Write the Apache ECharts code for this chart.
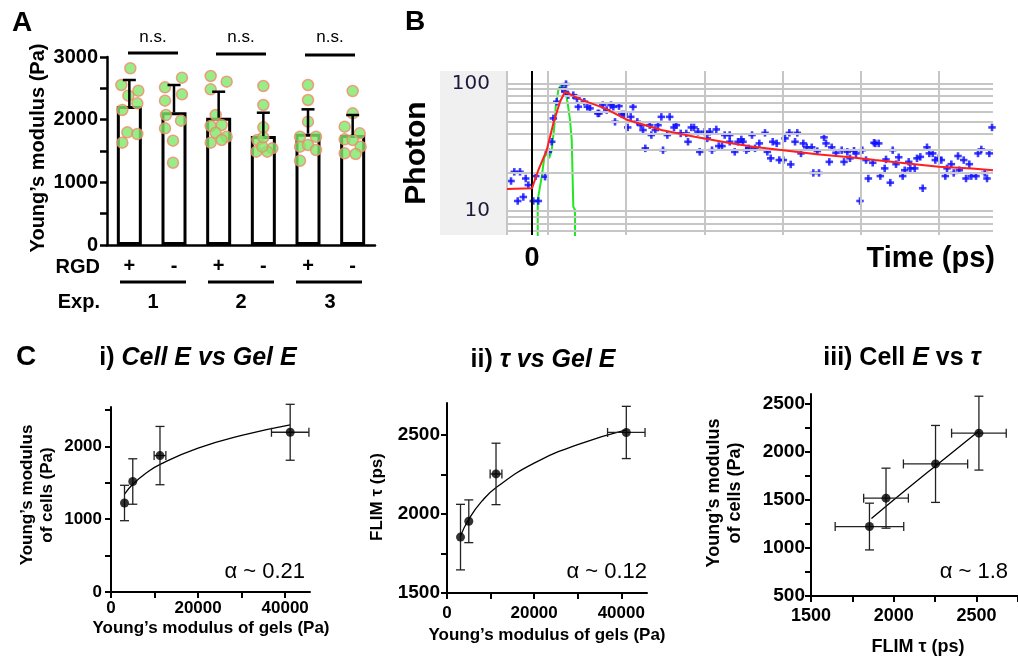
<!DOCTYPE html>
<html><head><meta charset="utf-8">
<script src="https://cdn.jsdelivr.net/npm/echarts@6/dist/echarts.min.js"></script>
<style>html,body{margin:0;padding:0;background:#fff}#c{width:1018px;height:660px}</style>
</head><body><div id="c"></div>
<script>
// ================= Panel A data =================
const aCategories = ['+', '-', '+', '-', '+', '-'];
const aGroupLabels = ['1', '2', '3'];
const aMeans = [2218, 2117, 2031, 1739, 1776, 1755];
const aSD = [415, 436, 415, 372, 389, 319];
const aDots = [
  [2820, 2553, 2462, 2383, 2261, 2154, 1798, 1771, 1633],
  [2670, 2516, 2404, 2303, 2074, 1984, 1862, 1665, 1313],
  [2697, 2606, 2484, 2074, 1899, 1915, 1792, 1728, 1633, 1676],
  [2537, 2234, 1878, 1676, 1543, 1489, 1489, 1569, 1718],
  [2553, 2314, 1968, 1728, 1728, 1569, 1596, 1516, 1345],
  [2457, 2101, 1888, 1782, 1686, 1676, 1569, 1463, 1452]
];
const aYTicks = [0, 500, 1000, 1500, 2000, 2500, 3000];
const aYLabels = [0, 1000, 2000, 3000];

// ================= Panel B data =================
// [time (ps), photons]
const bPhotons = [
  [-537,17.2],[-453,20.3],[-307,20.3],[-161,18.0],[-366,12.0],[-223,12.9],[-95,16.0],[33,12.0],[161,12.0],[95,18.8],
  [333,18.6],[417,29.1],[504,34.9],[545,53.2],[632,71.8],[775,91.4],[870,98.7],[844,85.9],[929,80.9],[1056,80.9],
  [1151,76.3],[1184,65.6],[1338,71.8],[1415,65.6],[1484,63.7],[1681,58.2],[1714,58.2],[1809,67.6],[1911,61.8],[2021,67.6],
  [2080,65.6],[2123,50.0],[2225,66.4],[2295,57.2],[2361,57.2],[2448,45.2],[2525,54.7],[2584,65.6],[2694,50.0],[2781,47.1],
  [2839,43.1],[2898,31.0],[3011,47.1],[3052,39.4],[3154,43.1],[3223,47.1],[3308,54.7],[3351,30.0],[3461,39.4],[3522,54.7],
  [3632,45.2],[3691,47.1],[3804,40.6],[3947,40.6],[3990,34.9],[4075,45.2],[4144,45.2],[4246,41.8],[4290,29.1],[4418,41.8],
  [4546,41.8],[4484,37.1],[4604,30.0],[4714,43.6],[4776,32.3],[4860,32.3],[4929,39.4],[5057,39.4],[5057,34.9],[5185,29.1],
  [5270,34.9],[5354,36.4],[5397,34.9],[5482,30.0],[5543,31.0],[5628,39.4],[5704,31.0],[5814,33.9],[5960,41.0],[6019,29.1],
  [6106,25.9],[6157,34.9],[6259,33.9],[6326,25.1],[6428,25.1],[6472,37.1],[6582,41.0],[6618,23.2],[6728,34.9],[6786,41.0],
  [6881,28.3],[6940,33.9],[7027,31.6],[7155,31.6],[7196,19.9],[7341,19.9],[7298,29.5],[7469,37.8],[7521,33.9],[7605,24.3],
  [7666,31.6],[7776,28.6],[7922,30.0],[7981,24.3],[8065,29.1],[8134,25.9],[8237,29.7],[8288,28.3],[8390,12.0],[8449,30.0],
  [8544,25.1],[8603,18.0],[8715,23.9],[8748,34.3],[8782,33.9],[8869,33.9],[8910,18.8],[9022,21.6],[9055,25.4],[9165,16.7],
  [9227,30.0],[9311,23.3],[9380,26.4],[9482,18.8],[9534,20.9],[9636,24.3],[9677,21.6],[9790,21.6],[9848,25.9],[9933,26.6],
  [9994,15.1],[10104,31.6],[10163,28.3],[10250,28.3],[10316,25.1],[10403,25.9],[10470,25.1],[10572,18.8],[10616,21.6],[10726,23.3],
  [10787,19.9],[10897,27.0],[10930,20.9],[11043,25.1],[11102,18.0],[11186,23.3],[11237,18.8],[11358,18.8],[11409,28.3],[11493,30.4],
  [11580,19.9],[11639,18.0],[11698,28.3],[11767,45.2]
];
const bFit = [
  [-640,14.9],[0,15.1],[161,20.9],[376,30.0],[545,48.6],[716,71.8],[844,85.9],[887,87.5],[1271,74.2],[1867,63.7],
  [2448,51.6],[3308,43.1],[4162,38.2],[5014,34.3],[5653,31.9],[6428,30.0],[7282,27.9],[8134,26.4],[8774,25.1],[9550,23.7],
  [10403,22.2],[11255,21.6],[11792,20.9]
];
const bIRF = [
  [146,5],[146,12.2],[248,18.6],[315,26.4],[376,28.3],[440,26.0],[504,30.0],[570,45.8],[606,65.6],[673,88.7],
  [742,97.0],[826,97.0],[913,69.9],[972,51.6],[1016,36.0],[1056,10.8],[1100,10.2],[1100,5]
];
const bYTickValues = [10, 100];
const bYGridValues = [7, 8, 9, 10, 20, 30, 40, 50, 60, 70, 80, 90, 100];
const bXGridValues = [-640, 409, 2409, 4409, 6409, 8409, 10409];
const bXLabels = [0];

// ================= Panel C data =================
const gelE = [3100, 5000, 11250, 41150];
const gelEErr = [0, 0, 1350, 4300];
const cellE = [1222, 1517, 1873, 2193];
const cellEErr = [243, 312, 400, 384];
const tau = [1853, 1953, 2252, 2514];
const tauErr = [207, 135, 194, 165];
const fitI = [[3100,1345],[5000,1480],[8000,1630],[11500,1760],[20000,1975],[30000,2150],[41150,2295]];
const fitII = [[3100,1860],[5000,1966],[8000,2080],[11500,2171],[20000,2320],[30000,2437],[41150,2530]];
const fitIII = [[1865,1305],[2050,1570],[2250,1850],[2514,2215]];
const cGelTicks = [0, 10000, 20000, 30000, 40000];
const cGelLabels = [0, 20000, 40000];
const cCellTicksI = [0, 500, 1000, 1500, 2000, 2500];
const cCellLabelsI = [0, 1000, 2000];
const cTauTicksII = [1500, 1750, 2000, 2250, 2500];
const cTauLabelsII = [1500, 2000, 2500];
const cCellTicksIII = [500, 750, 1000, 1250, 1500, 1750, 2000, 2250, 2500];
const cCellLabelsIII = [500, 1000, 1500, 2000, 2500];
const cTauTicksIII = [1500, 1750, 2000, 2250, 2500, 2750];
const cTauLabelsIII = [1500, 2000, 2500];

// ================= layout / style =================
const FF = '"Liberation Sans", Arial, Helvetica, sans-serif';
const aDotJitterPx = [
  [1,-8,9,-1,8,-7,-2,8,-7],
  [8,-9,8,-9,-8,7,-9,-1,-1],
  [-8,8,-8,-3,-8,3,-3,8,-8,3],
  [0,0,0,-6,9,-7,4,-1,0],
  [0,0,0,-8,8,-8,0,8,-8],
  [0,0,-8,7,-8,0,8,-8,3]
];

function valueAxis(gi, min, max, ticks, labels, fontSize, margin, extra) {
  return Object.assign({
    type: 'value', gridIndex: gi, min: min, max: max,
    axisLine: { show: true, onZero: false, lineStyle: { color: '#000', width: 2 } },
    axisTick: { show: true, inside: false, length: 6, customValues: ticks, lineStyle: { color: '#000', width: 2 } },
    axisLabel: { customValues: labels, fontFamily: FF, fontWeight: 'bold', fontSize: fontSize, color: '#000', margin: margin,
      formatter: v => (labels.indexOf(v) >= 0 ? String(v) : '') },
    splitLine: { show: false }
  }, extra || {});
}

function errRender(params, api) {
  const x = api.value(0), y = api.value(1), ex = api.value(2), ey = api.value(3);
  const c = 4.5; const st = { stroke: '#222', lineWidth: 1.3 };
  const ch = [];
  const L = (x1, y1, x2, y2) => ({ type: 'line', shape: { x1, y1, x2, y2 }, style: st });
  if (ey > 0) {
    const a = api.coord([x, y - ey]), b = api.coord([x, y + ey]);
    ch.push(L(a[0], a[1], b[0], b[1]), L(a[0] - c, a[1], a[0] + c, a[1]), L(b[0] - c, b[1], b[0] + c, b[1]));
  }
  if (ex > 0) {
    const a = api.coord([x - ex, y]), b = api.coord([x + ex, y]);
    ch.push(L(a[0], a[1], b[0], b[1]), L(a[0], a[1] - c, a[0], a[1] + c), L(b[0], b[1] - c, b[0], b[1] + c));
  }
  return { type: 'group', children: ch };
}

// ---- series
const series = [];
series.push({ type: 'bar', xAxisIndex: 0, yAxisIndex: 0, data: aMeans, barWidth: 25, z: 2,
  itemStyle: { color: '#fff', borderColor: '#000', borderWidth: 3 }, silent: true });
const dotData = [];
aDots.forEach((arr, i) => arr.forEach((v, j) => dotData.push({ value: [i, v], symbolOffset: [aDotJitterPx[i][j], 0] })));
series.push({ type: 'scatter', xAxisIndex: 0, yAxisIndex: 0, data: dotData, symbolSize: 11, z: 3, silent: true,
  itemStyle: { color: '#7fe86a', borderColor: '#f2876a', borderWidth: 1.5 } });
series.push({ type: 'custom', xAxisIndex: 0, yAxisIndex: 0, z: 4, silent: true,
  data: aMeans.map((m, i) => [i, m, aSD[i]]),
  renderItem: function (params, api) {
    const i = api.value(0), m = api.value(1), s = api.value(2);
    const p0 = api.coord([i, m]), p1 = api.coord([i, m + s]);
    const st = { stroke: '#000', lineWidth: 2.5 };
    return { type: 'group', children: [
      { type: 'line', shape: { x1: p0[0], y1: p0[1], x2: p1[0], y2: p1[1] }, style: st },
      { type: 'line', shape: { x1: p1[0] - 6.5, y1: p1[1], x2: p1[0] + 6.5, y2: p1[1] }, style: st }
    ] };
  } });

const gridMark = [];
bYGridValues.forEach(v => gridMark.push({ yAxis: v }));
bXGridValues.forEach(v => gridMark.push({ xAxis: v }));
gridMark.push({ xAxis: 0, lineStyle: { color: '#000', width: 2 } });
series.push({ type: 'line', xAxisIndex: 1, yAxisIndex: 1, data: [], z: 1, silent: true,
  markLine: { silent: true, symbol: ['none', 'none'], animation: false, label: { show: false },
    lineStyle: { color: '#c6c6c6', width: 2, type: 'solid' }, emphasis: { disabled: true }, data: gridMark } });
series.push({ type: 'line', xAxisIndex: 1, yAxisIndex: 1, data: bIRF, showSymbol: false, z: 3, silent: true,
  lineStyle: { color: '#22e822', width: 2 } });
// blue "+" markers: a horizontal and a vertical bar at each point
series.push({ type: 'scatter', xAxisIndex: 1, yAxisIndex: 1, data: bPhotons, z: 4, silent: true,
  symbol: 'rect', symbolSize: [7.5, 2.6], itemStyle: { color: '#1010ff' } });
series.push({ type: 'scatter', xAxisIndex: 1, yAxisIndex: 1, data: bPhotons, z: 4, silent: true,
  symbol: 'rect', symbolSize: [2.6, 7.5], itemStyle: { color: '#1010ff' } });
series.push({ type: 'line', xAxisIndex: 1, yAxisIndex: 1, data: bFit, showSymbol: false, z: 5, silent: true,
  lineStyle: { color: '#ff1f1f', width: 2 } });

function cPanel(ai, xs, xe, ys, ye, fit) {
  series.push({ type: 'line', xAxisIndex: ai, yAxisIndex: ai, data: fit, smooth: true, showSymbol: false, z: 3, silent: true,
    lineStyle: { color: '#000', width: 1.3 } });
  series.push({ type: 'custom', xAxisIndex: ai, yAxisIndex: ai, z: 4, silent: true,
    data: xs.map((x, i) => [x, ys[i], xe[i], ye[i]]), renderItem: errRender });
  series.push({ type: 'scatter', xAxisIndex: ai, yAxisIndex: ai, z: 5, silent: true,
    data: xs.map((x, i) => [x, ys[i]]), symbolSize: 9, itemStyle: { color: '#000' } });
}
cPanel(2, gelE, gelEErr, cellE, cellEErr, fitI);
cPanel(3, gelE, gelEErr, tau, tauErr, fitII);
cPanel(4, tau, tauErr, cellE, cellEErr, fitIII);

// ---- graphics (labels & annotations)
const G = [];
function T(x, y, text, size, weight, align, extra) {
  G.push(Object.assign({ type: 'text', x: x, y: y, silent: true, z: 10,
    style: Object.assign({ text: text, fontFamily: FF, fontSize: size, fontWeight: weight || 'normal',
      fill: '#000', align: align || 'center', verticalAlign: 'middle' }, (extra && extra.style) || {}) },
    extra && extra.rotation ? { rotation: extra.rotation } : {}));
}
function Ln(x1, y1, x2, y2, w) {
  G.push({ type: 'line', silent: true, z: 10, shape: { x1, y1, x2, y2 }, style: { stroke: '#000', lineWidth: w || 3 } });
}
const R90 = Math.PI / 2;
T(22, 23, 'A', 28, 'bold');
T(38, 148, 'Young\u2019s modulus (Pa)', 20, 'bold', 'center', { rotation: R90 });
[[153, 128, 178, 53], [241, 216, 266, 54], [330, 305, 355, 55]].forEach(g => {
  T(g[0], 37, 'n.s.', 17, 'normal');
  Ln(g[1], g[3], g[2], g[3], 3);
});
T(100, 267, 'RGD', 20, 'bold', 'right');
T(100, 302, 'Exp.', 20, 'bold', 'right');
[[120, 186, 153], [208, 274, 241], [296, 362, 330]].forEach((g, k) => {
  Ln(g[0], 282, g[1], 282, 3);
  T(g[2], 302, aGroupLabels[k], 20, 'bold');
});
G.push({ type: 'rect', silent: true, z: 0, shape: { x: 440, y: 71, width: 67, height: 164 }, style: { fill: '#f0f0f0' } });
T(415, 22, 'B', 28, 'bold');
T(417, 153, 'Photon', 30, 'bold', 'center', { rotation: R90 });
T(995, 259, 'Time (ps)', 29, 'bold', 'right');
T(26, 357, 'C', 28, 'bold');
const richStyle = {
  n: { fontFamily: FF, fontSize: 25, fontWeight: 'bold', fill: '#000' },
  it: { fontFamily: FF, fontSize: 25, fontWeight: 'bold', fontStyle: 'italic', fill: '#000' }
};
T(198, 358, '{n|i) }{it|Cell E vs Gel E}', 25, 'bold', 'center', { style: { rich: richStyle } });
T(543, 360, '{n|ii) }{it|\u03c4 vs Gel E}', 25, 'bold', 'center', { style: { rich: richStyle } });
T(902, 358, '{n|iii) Cell }{it|E}{n| vs }{it|\u03c4}', 25, 'bold', 'center', { style: { rich: richStyle } });
T(305, 572, '\u03b1 ~ 0.21', 22, 'normal', 'right');
T(647, 572, '\u03b1 ~ 0.12', 22, 'normal', 'right');
T(1008, 572, '\u03b1 ~ 1.8', 22, 'normal', 'right');
T(37, 495, 'Young\u2019s modulus\nof cells (Pa)', 17, 'bold', 'center', { rotation: R90, style: { lineHeight: 20 } });
T(211, 628, 'Young\u2019s modulus of gels (Pa)', 17, 'bold');
T(377, 497, 'FLIM \u03c4 (ps)', 17, 'bold', 'center', { rotation: R90 });
T(547, 635, 'Young\u2019s modulus of gels (Pa)', 17, 'bold');
T(725, 493, 'Young\u2019s modulus\nof cells (Pa)', 18, 'bold', 'center', { rotation: R90, style: { lineHeight: 21 } });
T(918, 647, 'FLIM \u03c4 (ps)', 18, 'bold');

const option = {
  animation: false,
  backgroundColor: '#fff',
  textStyle: { fontFamily: FF },
  grid: [
    { left: 107, top: 57, width: 268, height: 188 },
    { left: 507, top: 71, width: 486, height: 164 },
    { left: 111, top: 407, width: 199, height: 185 },
    { left: 447, top: 403, width: 200, height: 190 },
    { left: 811, top: 394, width: 210, height: 202 }
  ],
  xAxis: [
    { type: 'category', gridIndex: 0, data: aCategories,
      axisLine: { lineStyle: { color: '#000', width: 2.5 } },
      axisTick: { alignWithLabel: true, length: 7, lineStyle: { color: '#000', width: 2.5 } },
      axisLabel: { fontFamily: FF, fontWeight: 'bold', fontSize: 20, color: '#000', margin: 11 } },
    { type: 'value', gridIndex: 1, min: -640, max: 11792,
      axisLine: { show: false }, axisTick: { show: false }, splitLine: { show: false },
      axisLabel: { customValues: bXLabels, fontFamily: FF, fontWeight: 'bold', fontSize: 27, color: '#000', margin: 10,
        formatter: v => (bXLabels.indexOf(v) >= 0 ? String(v) : '') } },
    valueAxis(2, 0, 45700, cGelTicks, cGelLabels, 17, 8, { interval: 10000 }),
    valueAxis(3, 0, 45900, cGelTicks, cGelLabels, 17, 12, { interval: 10000 }),
    valueAxis(4, 1500, 2750, cTauTicksIII, cTauLabelsIII, 18, 11, { interval: 250 })
  ],
  yAxis: [
    valueAxis(0, 0, 3000, aYTicks, aYLabels, 20, 9, { interval: 500,
      axisLine: { show: true, lineStyle: { color: '#000', width: 2.5 } },
      axisTick: { show: true, length: 7, customValues: aYTicks, lineStyle: { color: '#000', width: 2.5 } } }),
    { type: 'log', gridIndex: 1, logBase: 10, min: 6.5, max: 125,
      axisLine: { show: false }, splitLine: { show: false },
      axisTick: { show: true, length: 13, customValues: bYTickValues, lineStyle: { color: '#222', width: 2 } },
      axisLabel: { customValues: bYTickValues, fontFamily: '"DejaVu Sans", Verdana, sans-serif', fontSize: 20, color: '#1c1a3a', margin: 17,
        formatter: v => (bYTickValues.indexOf(Math.round(v)) >= 0 ? String(Math.round(v)) : '') } },
    valueAxis(2, 0, 2540, cCellTicksI, cCellLabelsI, 17, 9, { interval: 500 }),
    valueAxis(3, 1500, 2700, cTauTicksII, cTauLabelsII, 19, 7, { interval: 250 }),
    valueAxis(4, 500, 2600, cCellTicksIII, cCellLabelsIII, 19, 6, { interval: 250 })
  ],
  series: series,
  graphic: { elements: G }
};

const chart = echarts.init(document.getElementById('c'), null, { renderer: 'canvas', width: 1018, height: 660 });
chart.setOption(option);
</script>
</body></html>
